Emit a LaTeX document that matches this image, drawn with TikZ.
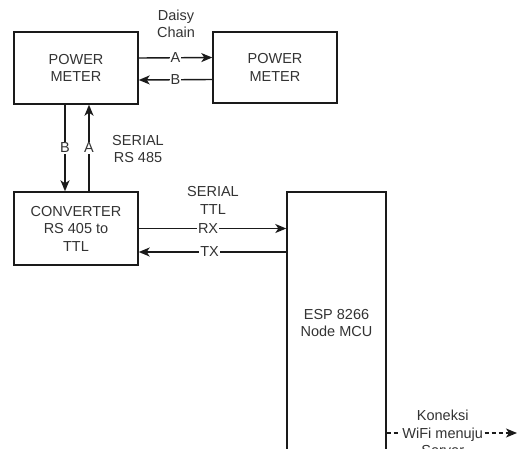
\documentclass[tikz,border=0pt]{standalone}
\usepackage{fontspec}
\setmainfont{Liberation Sans}
\usetikzlibrary{arrows.meta}
\definecolor{txt}{HTML}{333333}
\definecolor{ln}{HTML}{1A1A1A}
\tikzset{
  box/.style={draw=ln, line width=1.4pt, align=center, text=txt,
    font=\fontsize{14.5}{17.5}\selectfont, inner sep=0pt},
  lbl/.style={text=txt, align=center, font=\fontsize{14.5}{17.5}\selectfont,
    fill=white, inner sep=1pt},
  wire/.style={draw=ln, line width=1.4pt},
  arr/.style={wire, -{Stealth[length=11pt,width=9pt,inset=3pt]}}
}

\begin{document}
\begin{tikzpicture}[x=1pt, y=-1pt]
                \useasboundingbox (0,0) rectangle (524,448);
                \node[box, minimum width=124pt, minimum height=72pt] (pm1) at (76,68) {POWER\\METER};
                \node[box, minimum width=124pt, minimum height=71pt] (pm2) at (275,67.5) {POWER\\METER};
                \node[box, minimum width=124pt, minimum height=73pt] (conv) at (76,228.5) {CONVERTER\\RS 405 to\\TTL};
                \node[box, minimum width=99pt, minimum height=262pt] (esp) at (336.5,323) {ESP 8266\\Node MCU};
                \coordinate (tx) at ([yshift=-23.5pt]conv.east);
                \coordinate (srv) at (517,433);
                % daisy chain
                \draw[arr] ([yshift=10pt]pm1.east) -- ([yshift=10pt]pm2.west) node[lbl, pos=0.5] {A};
                \draw[arr] ([yshift=-12pt]pm2.west) -- ([yshift=-12pt]pm1.east) node[lbl, pos=0.5] {B};
                % rs 485
                \draw[arr] ([xshift=-11pt]pm1.south) -- ([xshift=-11pt]conv.north) node[lbl, pos=0.5] {B};
                \draw[arr] ([xshift=13pt]conv.north) -- ([xshift=13pt]pm1.south) node[lbl, pos=0.5] {A};
                % ttl
                \draw[arr] (conv.east) -- (conv.east -| esp.west) node[lbl, pos=0.47] {RX};
                \draw[arr] (tx -| esp.west) -- (tx) node[lbl, pos=0.52] {TX};
                \draw[arr, dash pattern=on 4pt off 3pt] (esp.east |- srv) -- (srv) node[lbl, pos=0.43] {Koneksi\\WiFi menuju\\Server};
                \node[lbl, fill=none] (dc) at (176,24) {Daisy\\Chain};
                \node[lbl, fill=none] (s485) at (138,149) {SERIAL\\RS 485};
                \node[lbl, fill=none] (sttl) at (213,200.5) {SERIAL\\TTL};
            \end{tikzpicture}
\end{document}
